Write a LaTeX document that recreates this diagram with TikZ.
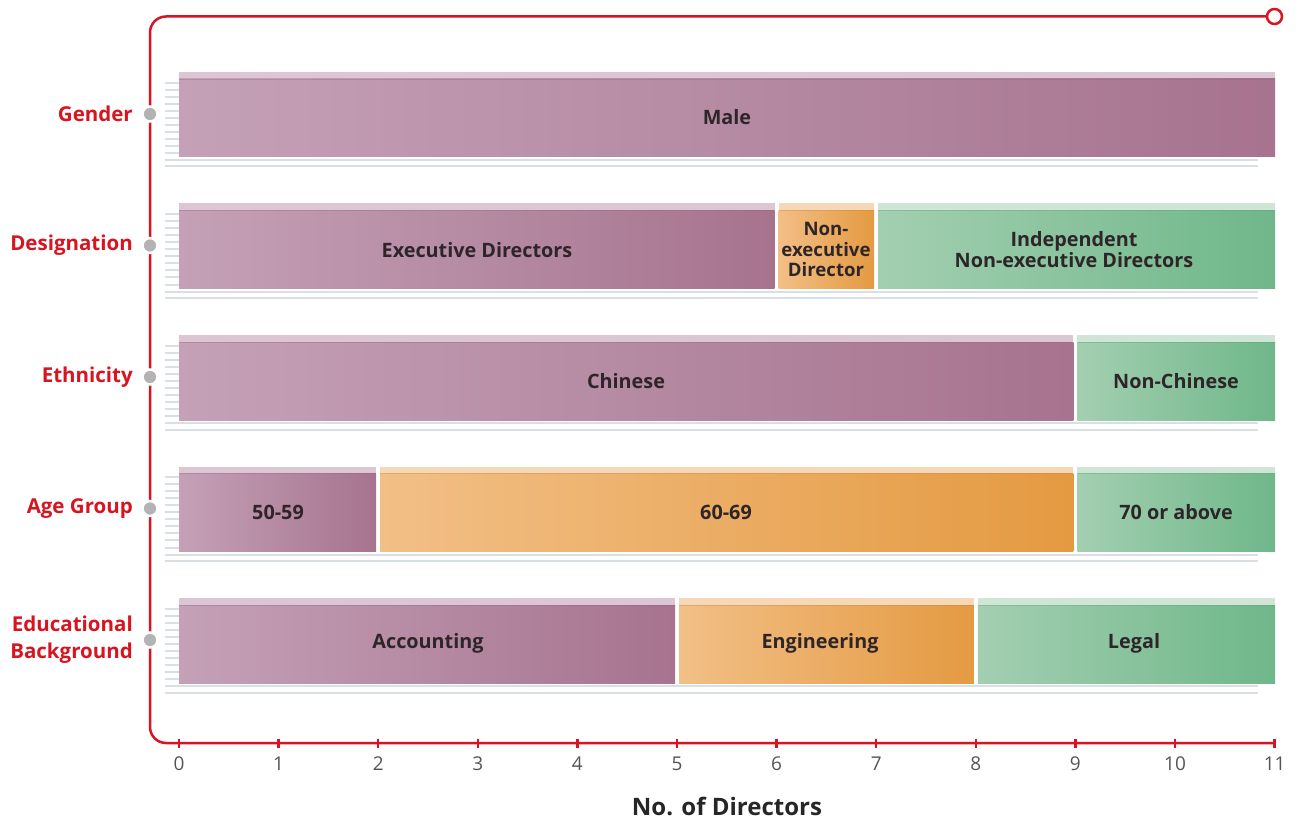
\documentclass[tikz,border=0pt]{standalone}
\usepackage{fontspec}
\setmainfont{Open Sans}
\definecolor{cred}{HTML}{D7141F}
\definecolor{purL}{HTML}{C4A1B7}
\definecolor{purD}{HTML}{A7738F}
\definecolor{purS}{HTML}{DCC6D3}
\definecolor{orgL}{HTML}{F2BF86}
\definecolor{orgD}{HTML}{E49A41}
\definecolor{orgS}{HTML}{F7D8B6}
\definecolor{grnL}{HTML}{A3CFB1}
\definecolor{grnD}{HTML}{6FB78A}
\definecolor{grnS}{HTML}{CFE5D6}
\definecolor{gline}{HTML}{D8E0E4}
\definecolor{dotgrey}{HTML}{B3B3B3}
\definecolor{txt}{HTML}{2E2529}
\definecolor{numgrey}{HTML}{555555}
\tikzset{
  catlabel/.style={anchor=east, text=cred, font=\fontsize{20.5}{27}\selectfont\bfseries, align=right, inner sep=0pt},
  barlabel/.style={text=txt, font=\fontsize{19.8}{21}\selectfont\bfseries, align=center, inner sep=0pt},
  smallbarlabel/.style={barlabel, font=\fontsize{18.6}{20.5}\selectfont\bfseries},
  numlabel/.style={text=numgrey, font=\fontsize{19}{21}\selectfont, inner sep=0pt},
  axistitle/.style={text=black!85, font=\fontsize{24}{28}\selectfont\bfseries, inner sep=0pt},
  catdot/.style={circle, fill=dotgrey, draw=white, line width=2.5pt, minimum size=15pt, inner sep=0pt},
  redline/.style={draw=cred, line width=2.5pt},
  greyline/.style={draw=gline, line width=2pt},
}
\begin{document}
\begin{tikzpicture}[x=1pt,y=-1pt]
\useasboundingbox (0,0) rectangle (1298,821);
% red frame
\coordinate (topend) at (1274.5,16.5);
\coordinate (axend) at (1275,743);
\draw[redline, rounded corners=16pt] (topend) -- (150,16.5) -- (150,743) -- (axend);
\node[circle, draw=cred, fill=white, line width=2.5pt, minimum size=15pt, inner sep=0pt] (endcirc) at (topend) {};
% ticks and numbers
\foreach \i in {0,...,11}{
  \pgfmathsetmacro\xx{179+99.6*\i}
  \draw[redline] (\xx,738.5) -- (\xx,748);
  \node[numlabel] (n\i) at (\xx,764) {\i};
}
\node[axistitle] (axtitle) at (727,806) {No. of Directors};
% rows: decorations
\foreach \r in {0,...,4}{
  \pgfmathsetmacro\T{79+131.5*\r}
  \foreach \k in {0,...,10}{
    \pgfmathsetmacro\yy{\T+3.7+7.03*\k}
    \draw[greyline] (165,\yy) -- (179,\yy);
  }
  \pgfmathsetmacro\ya{\T+81}
  \pgfmathsetmacro\yb{\T+87.5}
  \draw[greyline] (165,\ya) -- (1257.5,\ya);
  \draw[greyline] (165,\yb) -- (1257.5,\yb);
}
% segments
\foreach \r/\a/\b/\c in {0/0/11/pur, 1/0/6/pur, 1/6/7/org, 1/7/11/grn, 2/0/9/pur, 2/9/11/grn, 3/0/2/pur, 3/2/9/org, 3/9/11/grn, 4/0/5/pur, 4/5/8/org, 4/8/11/grn}{
  \pgfmathsetmacro\T{79+131.5*\r}
  \pgfmathsetmacro\B{\T+78}
  \pgfmathsetmacro\S{\T-7}
  \pgfmathsetmacro\xa{179+99.6*\a+2*(\a>0)}
  \pgfmathsetmacro\xb{179+99.6*\b-2*(\b<11)+0.5*(\b==11)}
  \fill[\c S] (\xa,\S) rectangle (\xb,\T);
  \shade[left color=\c L, right color=\c D] (\xa,\T) rectangle (\xb,\B);
  \draw[\c D!85!black, line width=0.6pt, opacity=0.35] (\xa,\T) -- (\xb,\T);
}
% category labels and dots
\foreach \r/\lab/\nm in {0/Gender/gender, 1/Designation/desig, 2/Ethnicity/ethn, 3/Age Group/age, 4/{Educational\\Background}/edu}{
  \pgfmathsetmacro\yy{79+131.5*\r+35}
  \node[catdot] (dot\nm) at (150,\yy) {};
  \node[catlabel] (lab\nm) at (133,\yy) {\lab};
}
% bar labels
\node[barlabel] (male) at (727,117) {Male};
\node[barlabel] (exec) at (477,250) {Executive Directors};
\node[smallbarlabel] (nonexec) at (826,249.5) {Non-\\executive\\Director};
\node[barlabel] (indep) at (1074,249.5) {Independent\\Non-executive Directors};
\node[barlabel] (chinese) at (626,381) {Chinese};
\node[barlabel] (nonchinese) at (1176,381) {Non-Chinese};
\node[barlabel] (a50) at (278,512) {50-59};
\node[barlabel] (a60) at (726,512) {60-69};
\node[barlabel] (a70) at (1176,512) {70 or above};
\node[barlabel] (acc) at (428,643) {Accounting};
\node[barlabel] (eng) at (820,643) {Engineering};
\node[barlabel] (legal) at (1134,643) {Legal};
\end{tikzpicture}
\end{document}
